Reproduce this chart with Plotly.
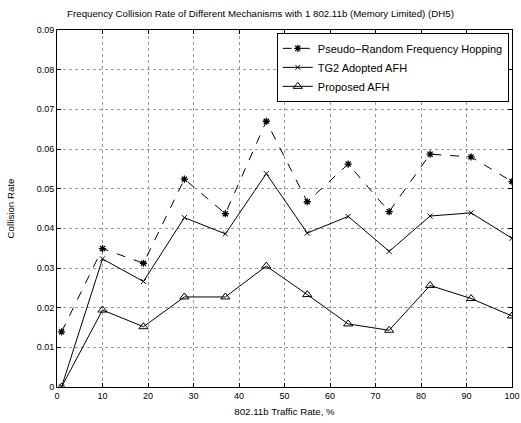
import plotly.graph_objects as go

x_vals = [1, 10, 19, 28, 37, 46, 55, 64, 73, 82, 91, 100]
pseudo_random = [0.0139, 0.0349, 0.0312, 0.0524, 0.0437, 0.0670, 0.0467, 0.0562, 0.0442, 0.0587, 0.0580, 0.0518]
tg2_afh = [0.0, 0.0323, 0.0266, 0.0427, 0.0386, 0.0538, 0.0388, 0.0430, 0.0342, 0.0431, 0.0439, 0.0375]
proposed_afh = [0.0, 0.0194, 0.0152, 0.0227, 0.0227, 0.0305, 0.0233, 0.0159, 0.0143, 0.0256, 0.0223, 0.0179]
x_ticks = [0, 10, 20, 30, 40, 50, 60, 70, 80, 90, 100]
y_ticks = [0, 0.01, 0.02, 0.03, 0.04, 0.05, 0.06, 0.07, 0.08, 0.09]
y_tick_text = ["0", "0.01", "0.02", "0.03", "0.04", "0.05", "0.06", "0.07", "0.08", "0.09"]

fig = go.Figure()
fig.add_trace(go.Scatter(x=x_vals, y=pseudo_random, mode="lines+markers",
                         name="Pseudo\u2212Random Frequency Hopping",
                         line=dict(color="black", width=1, dash="dash"),
                         marker=dict(symbol="asterisk-open", size=6, color="black",
                                     line=dict(color="black", width=1.3))))
fig.add_trace(go.Scatter(x=x_vals, y=tg2_afh, mode="lines+markers",
                         name="TG2 Adopted AFH",
                         line=dict(color="black", width=1),
                         marker=dict(symbol="x-thin-open", size=5, color="black",
                                     line=dict(color="black", width=1))))
fig.add_trace(go.Scatter(x=x_vals, y=proposed_afh, mode="lines+markers",
                         name="Proposed AFH",
                         line=dict(color="black", width=1),
                         marker=dict(symbol="triangle-up-open", size=8, color="black",
                                     line=dict(color="black", width=1))))

axis_common = dict(showline=True, linecolor="black", linewidth=1, mirror="allticks",
                   ticks="inside", ticklen=4, tickcolor="black",
                   showgrid=True, gridcolor="#999999", griddash="dot", gridwidth=1,
                   zeroline=False, automargin=False, tickfont=dict(size=9, color="black"))

fig.update_layout(
    width=521, height=423,
    margin=dict(l=57, r=9, t=30, b=36),
    paper_bgcolor="white", plot_bgcolor="white",
    font=dict(family="Liberation Sans, Arial, sans-serif", size=9, color="black"),
    title=dict(text="Frequency Collision Rate of Different Mechanisms with 1 802.11b (Memory Limited) (DH5)",
               x=0.5, xanchor="center", y=0.969, yanchor="middle", font=dict(size=9.7)),
    xaxis=dict(range=[0, 100], tickvals=x_ticks,
               title=dict(text="802.11b Traffic Rate, %", font=dict(size=9.7), standoff=8),
               **axis_common),
    yaxis=dict(range=[0, 0.09], tickvals=y_ticks, ticktext=y_tick_text,
               title=dict(text="Collision Rate", font=dict(size=9.7), standoff=20),
               **axis_common),
    legend=dict(x=0.993, y=0.992, xanchor="right", yanchor="top",
                bgcolor="white", bordercolor="black", borderwidth=1,
                font=dict(size=11), tracegroupgap=0, itemwidth=30),
    showlegend=True,
)

fig.write_html("out.html", config={"displayModeBar": False},
               post_script="document.body.style.margin='0px';document.body.style.overflow='hidden';")
